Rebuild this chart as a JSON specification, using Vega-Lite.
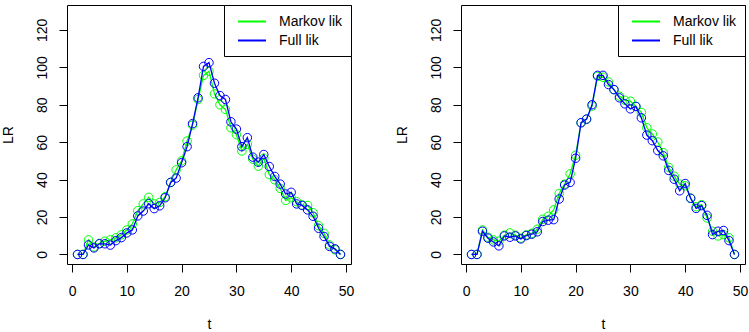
{
 "$schema": "https://vega.github.io/schema/vega-lite/v6.json",
 "padding": {"left": 0, "top": 4, "right": 3, "bottom": 0},
 "background": "white",
 "bounds": "flush",
 "spacing": 110,
 "resolve": {"legend": {"color": "independent"}},
 "data": {"values": [
  {"panel":1,"series":"Markov lik","t":1,"LR":0},{"panel":1,"series":"Markov lik","t":2,"LR":0},{"panel":1,"series":"Markov lik","t":3,"LR":7.8},{"panel":1,"series":"Markov lik","t":4,"LR":4},{"panel":1,"series":"Markov lik","t":5,"LR":5.9},{"panel":1,"series":"Markov lik","t":6,"LR":7.1},{"panel":1,"series":"Markov lik","t":7,"LR":7.8},{"panel":1,"series":"Markov lik","t":8,"LR":8.9},{"panel":1,"series":"Markov lik","t":9,"LR":10.5},{"panel":1,"series":"Markov lik","t":10,"LR":13.1},
  {"panel":1,"series":"Markov lik","t":11,"LR":16.3},{"panel":1,"series":"Markov lik","t":12,"LR":23.4},{"panel":1,"series":"Markov lik","t":13,"LR":27},{"panel":1,"series":"Markov lik","t":14,"LR":30.5},{"panel":1,"series":"Markov lik","t":15,"LR":27},{"panel":1,"series":"Markov lik","t":16,"LR":27.8},{"panel":1,"series":"Markov lik","t":17,"LR":30.9},{"panel":1,"series":"Markov lik","t":18,"LR":38.5},{"panel":1,"series":"Markov lik","t":19,"LR":45.2},{"panel":1,"series":"Markov lik","t":20,"LR":50},
  {"panel":1,"series":"Markov lik","t":21,"LR":60.6},{"panel":1,"series":"Markov lik","t":22,"LR":69.1},{"panel":1,"series":"Markov lik","t":23,"LR":82.8},{"panel":1,"series":"Markov lik","t":24,"LR":95.7},{"panel":1,"series":"Markov lik","t":25,"LR":97.9},{"panel":1,"series":"Markov lik","t":26,"LR":85.8},{"panel":1,"series":"Markov lik","t":27,"LR":80},{"panel":1,"series":"Markov lik","t":28,"LR":77.5},{"panel":1,"series":"Markov lik","t":29,"LR":67.7},{"panel":1,"series":"Markov lik","t":30,"LR":64},
  {"panel":1,"series":"Markov lik","t":31,"LR":55.3},{"panel":1,"series":"Markov lik","t":32,"LR":58.9},{"panel":1,"series":"Markov lik","t":33,"LR":50.9},{"panel":1,"series":"Markov lik","t":34,"LR":47.2},{"panel":1,"series":"Markov lik","t":35,"LR":51.4},{"panel":1,"series":"Markov lik","t":36,"LR":42.7},{"panel":1,"series":"Markov lik","t":37,"LR":39.9},{"panel":1,"series":"Markov lik","t":38,"LR":35.3},{"panel":1,"series":"Markov lik","t":39,"LR":28.9},{"panel":1,"series":"Markov lik","t":40,"LR":30.3},
  {"panel":1,"series":"Markov lik","t":41,"LR":28.2},{"panel":1,"series":"Markov lik","t":42,"LR":26.4},{"panel":1,"series":"Markov lik","t":43,"LR":26.2},{"panel":1,"series":"Markov lik","t":44,"LR":22.3},{"panel":1,"series":"Markov lik","t":45,"LR":15.4},{"panel":1,"series":"Markov lik","t":46,"LR":11.3},{"panel":1,"series":"Markov lik","t":47,"LR":5.1},{"panel":1,"series":"Markov lik","t":48,"LR":2.5},{"panel":1,"series":"Markov lik","t":49,"LR":0},
  {"panel":1,"series":"Full lik","t":1,"LR":0},{"panel":1,"series":"Full lik","t":2,"LR":0},{"panel":1,"series":"Full lik","t":3,"LR":5.1},{"panel":1,"series":"Full lik","t":4,"LR":3.5},{"panel":1,"series":"Full lik","t":5,"LR":5.7},{"panel":1,"series":"Full lik","t":6,"LR":5.7},{"panel":1,"series":"Full lik","t":7,"LR":5},{"panel":1,"series":"Full lik","t":8,"LR":7.4},{"panel":1,"series":"Full lik","t":9,"LR":9},{"panel":1,"series":"Full lik","t":10,"LR":11.5},
  {"panel":1,"series":"Full lik","t":11,"LR":13.1},{"panel":1,"series":"Full lik","t":12,"LR":20.6},{"panel":1,"series":"Full lik","t":13,"LR":23.2},{"panel":1,"series":"Full lik","t":14,"LR":27.1},{"panel":1,"series":"Full lik","t":15,"LR":24.5},{"panel":1,"series":"Full lik","t":16,"LR":26},{"panel":1,"series":"Full lik","t":17,"LR":30.3},{"panel":1,"series":"Full lik","t":18,"LR":38.5},{"panel":1,"series":"Full lik","t":19,"LR":40.8},{"panel":1,"series":"Full lik","t":20,"LR":49},
  {"panel":1,"series":"Full lik","t":21,"LR":57.6},{"panel":1,"series":"Full lik","t":22,"LR":69.9},{"panel":1,"series":"Full lik","t":23,"LR":83.7},{"panel":1,"series":"Full lik","t":24,"LR":100.5},{"panel":1,"series":"Full lik","t":25,"LR":102.5},{"panel":1,"series":"Full lik","t":26,"LR":91.5},{"panel":1,"series":"Full lik","t":27,"LR":84.9},{"panel":1,"series":"Full lik","t":28,"LR":82.8},{"panel":1,"series":"Full lik","t":29,"LR":70.9},{"panel":1,"series":"Full lik","t":30,"LR":67},
  {"panel":1,"series":"Full lik","t":31,"LR":57.6},{"panel":1,"series":"Full lik","t":32,"LR":62.4},{"panel":1,"series":"Full lik","t":33,"LR":52},{"panel":1,"series":"Full lik","t":34,"LR":49.3},{"panel":1,"series":"Full lik","t":35,"LR":53.4},{"panel":1,"series":"Full lik","t":36,"LR":47},{"panel":1,"series":"Full lik","t":37,"LR":41.7},{"panel":1,"series":"Full lik","t":38,"LR":37.6},{"panel":1,"series":"Full lik","t":39,"LR":32.3},{"panel":1,"series":"Full lik","t":40,"LR":33.2},
  {"panel":1,"series":"Full lik","t":41,"LR":27},{"panel":1,"series":"Full lik","t":42,"LR":26.2},{"panel":1,"series":"Full lik","t":43,"LR":23.8},{"panel":1,"series":"Full lik","t":44,"LR":20.4},{"panel":1,"series":"Full lik","t":45,"LR":14},{"panel":1,"series":"Full lik","t":46,"LR":9.6},{"panel":1,"series":"Full lik","t":47,"LR":4.3},{"panel":1,"series":"Full lik","t":48,"LR":3},{"panel":1,"series":"Full lik","t":49,"LR":0},
  {"panel":2,"series":"Markov lik","t":1,"LR":0},{"panel":2,"series":"Markov lik","t":2,"LR":0},{"panel":2,"series":"Markov lik","t":3,"LR":13.1},{"panel":2,"series":"Markov lik","t":4,"LR":9.2},{"panel":2,"series":"Markov lik","t":5,"LR":7.8},{"panel":2,"series":"Markov lik","t":6,"LR":7.1},{"panel":2,"series":"Markov lik","t":7,"LR":10.3},{"panel":2,"series":"Markov lik","t":8,"LR":11.5},{"panel":2,"series":"Markov lik","t":9,"LR":10.3},{"panel":2,"series":"Markov lik","t":10,"LR":8.7},
  {"panel":2,"series":"Markov lik","t":11,"LR":10.5},{"panel":2,"series":"Markov lik","t":12,"LR":11.3},{"panel":2,"series":"Markov lik","t":13,"LR":13.5},{"panel":2,"series":"Markov lik","t":14,"LR":18.8},{"panel":2,"series":"Markov lik","t":15,"LR":20.4},{"panel":2,"series":"Markov lik","t":16,"LR":23.8},{"panel":2,"series":"Markov lik","t":17,"LR":32.6},{"panel":2,"series":"Markov lik","t":18,"LR":37.6},{"panel":2,"series":"Markov lik","t":19,"LR":43.1},{"panel":2,"series":"Markov lik","t":20,"LR":53},
  {"panel":2,"series":"Markov lik","t":21,"LR":70.4},{"panel":2,"series":"Markov lik","t":22,"LR":72.3},{"panel":2,"series":"Markov lik","t":23,"LR":79.3},{"panel":2,"series":"Markov lik","t":24,"LR":95.2},{"panel":2,"series":"Markov lik","t":25,"LR":94.7},{"panel":2,"series":"Markov lik","t":26,"LR":92.2},{"panel":2,"series":"Markov lik","t":27,"LR":88.1},{"panel":2,"series":"Markov lik","t":28,"LR":84.6},{"panel":2,"series":"Markov lik","t":29,"LR":82.4},{"panel":2,"series":"Markov lik","t":30,"LR":81.9},
  {"panel":2,"series":"Markov lik","t":31,"LR":79.1},{"panel":2,"series":"Markov lik","t":32,"LR":75.9},{"panel":2,"series":"Markov lik","t":33,"LR":67.7},{"panel":2,"series":"Markov lik","t":34,"LR":64.4},{"panel":2,"series":"Markov lik","t":35,"LR":60.1},{"panel":2,"series":"Markov lik","t":36,"LR":54.4},{"panel":2,"series":"Markov lik","t":37,"LR":46.5},{"panel":2,"series":"Markov lik","t":38,"LR":41.8},{"panel":2,"series":"Markov lik","t":39,"LR":37.6},{"panel":2,"series":"Markov lik","t":40,"LR":36.7},
  {"panel":2,"series":"Markov lik","t":41,"LR":30.1},{"panel":2,"series":"Markov lik","t":42,"LR":25.5},{"panel":2,"series":"Markov lik","t":43,"LR":26.6},{"panel":2,"series":"Markov lik","t":44,"LR":19.5},{"panel":2,"series":"Markov lik","t":45,"LR":12.4},{"panel":2,"series":"Markov lik","t":46,"LR":9.9},{"panel":2,"series":"Markov lik","t":47,"LR":10.6},{"panel":2,"series":"Markov lik","t":48,"LR":8.9},{"panel":2,"series":"Markov lik","t":49,"LR":0},
  {"panel":2,"series":"Full lik","t":1,"LR":0},{"panel":2,"series":"Full lik","t":2,"LR":0},{"panel":2,"series":"Full lik","t":3,"LR":12.4},{"panel":2,"series":"Full lik","t":4,"LR":8.7},{"panel":2,"series":"Full lik","t":5,"LR":6.7},{"panel":2,"series":"Full lik","t":6,"LR":4.6},{"panel":2,"series":"Full lik","t":7,"LR":9.9},{"panel":2,"series":"Full lik","t":8,"LR":9.2},{"panel":2,"series":"Full lik","t":9,"LR":9.9},{"panel":2,"series":"Full lik","t":10,"LR":8.3},
  {"panel":2,"series":"Full lik","t":11,"LR":10.1},{"panel":2,"series":"Full lik","t":12,"LR":10.8},{"panel":2,"series":"Full lik","t":13,"LR":12.1},{"panel":2,"series":"Full lik","t":14,"LR":17.6},{"panel":2,"series":"Full lik","t":15,"LR":18.3},{"panel":2,"series":"Full lik","t":16,"LR":18.6},{"panel":2,"series":"Full lik","t":17,"LR":29.6},{"panel":2,"series":"Full lik","t":18,"LR":37.1},{"panel":2,"series":"Full lik","t":19,"LR":38.5},{"panel":2,"series":"Full lik","t":20,"LR":51.4},
  {"panel":2,"series":"Full lik","t":21,"LR":70.4},{"panel":2,"series":"Full lik","t":22,"LR":72.3},{"panel":2,"series":"Full lik","t":23,"LR":80},{"panel":2,"series":"Full lik","t":24,"LR":95.7},{"panel":2,"series":"Full lik","t":25,"LR":95.7},{"panel":2,"series":"Full lik","t":26,"LR":90.8},{"panel":2,"series":"Full lik","t":27,"LR":88.1},{"panel":2,"series":"Full lik","t":28,"LR":83.7},{"panel":2,"series":"Full lik","t":29,"LR":80.5},{"panel":2,"series":"Full lik","t":30,"LR":77.8},
  {"panel":2,"series":"Full lik","t":31,"LR":79.1},{"panel":2,"series":"Full lik","t":32,"LR":73},{"panel":2,"series":"Full lik","t":33,"LR":63.8},{"panel":2,"series":"Full lik","t":34,"LR":60.8},{"panel":2,"series":"Full lik","t":35,"LR":55.5},{"panel":2,"series":"Full lik","t":36,"LR":52.7},{"panel":2,"series":"Full lik","t":37,"LR":44.9},{"panel":2,"series":"Full lik","t":38,"LR":40.2},{"panel":2,"series":"Full lik","t":39,"LR":34},{"panel":2,"series":"Full lik","t":40,"LR":37.9},
  {"panel":2,"series":"Full lik","t":41,"LR":30},{"panel":2,"series":"Full lik","t":42,"LR":24.6},{"panel":2,"series":"Full lik","t":43,"LR":26.1},{"panel":2,"series":"Full lik","t":44,"LR":20.9},{"panel":2,"series":"Full lik","t":45,"LR":10.6},{"panel":2,"series":"Full lik","t":46,"LR":12.4},{"panel":2,"series":"Full lik","t":47,"LR":12.8},{"panel":2,"series":"Full lik","t":48,"LR":7.4},{"panel":2,"series":"Full lik","t":49,"LR":0}
 ]},
 "hconcat": [
  {
   "width": 284, "height": 259,
   "transform": [{"filter": "datum.panel == 1"}],
   "encoding": {
    "x": {"field": "t", "type": "quantitative", "scale": {"domain": [-0.92, 50.92], "nice": false, "zero": false}, "axis": {"values": [0, 10, 20, 30, 40, 50], "title": "t"}},
    "y": {"field": "LR", "type": "quantitative", "scale": {"domain": [-5.1, 133.3], "nice": false, "zero": false}, "axis": {"values": [0, 20, 40, 60, 80, 100, 120], "title": "LR"}},
    "color": {"field": "series", "type": "nominal", "scale": {"domain": ["Markov lik", "Full lik"], "range": ["#00FF00", "#0000FF"]}, "legend": {"orient": "top-right"}}
   },
   "layer": [
    {"transform": [{"filter": "datum.series == 'Markov lik'"}], "mark": {"type": "line", "strokeWidth": 1.3, "point": {"filled": false, "size": 72, "strokeWidth": 1}}},
    {"transform": [{"filter": "datum.series == 'Full lik'"}], "mark": {"type": "line", "strokeWidth": 1.3, "point": {"filled": false, "size": 72, "strokeWidth": 1}}}
   ]
  },
  {
   "width": 284, "height": 259,
   "transform": [{"filter": "datum.panel == 2"}],
   "encoding": {
    "x": {"field": "t", "type": "quantitative", "scale": {"domain": [-0.92, 50.92], "nice": false, "zero": false}, "axis": {"values": [0, 10, 20, 30, 40, 50], "title": "t"}},
    "y": {"field": "LR", "type": "quantitative", "scale": {"domain": [-5.1, 133.3], "nice": false, "zero": false}, "axis": {"values": [0, 20, 40, 60, 80, 100, 120], "title": "LR"}},
    "color": {"field": "series", "type": "nominal", "scale": {"domain": ["Markov lik", "Full lik"], "range": ["#00FF00", "#0000FF"]}, "legend": {"orient": "top-right"}}
   },
   "layer": [
    {"transform": [{"filter": "datum.series == 'Markov lik'"}], "mark": {"type": "line", "strokeWidth": 1.3, "point": {"filled": false, "size": 72, "strokeWidth": 1}}},
    {"transform": [{"filter": "datum.series == 'Full lik'"}], "mark": {"type": "line", "strokeWidth": 1.3, "point": {"filled": false, "size": 72, "strokeWidth": 1}}}
   ]
  }
 ],
 "config": {
  "font": "Liberation Sans",
  "view": {"stroke": "black", "strokeWidth": 1},
  "axis": {"grid": false, "domain": false, "ticks": true, "tickColor": "black", "tickSize": 8, "tickWidth": 1, "labelFont": "Liberation Sans", "labelFontSize": 14, "labelColor": "black", "titleFont": "Liberation Sans", "titleFontSize": 14, "titleFontWeight": "normal", "titleColor": "black"},
  "axisX": {"labelPadding": 12, "titleY": 64, "titleBaseline": "alphabetic"},
  "axisY": {"labelAngle": 270, "labelAlign": "center", "labelBaseline": "alphabetic", "labelPadding": 13, "titleAngle": 270, "titleX": -55, "titleY": 129.5, "titleAlign": "center", "titleBaseline": "alphabetic"},
  "legend": {"title": null, "offset": 0, "strokeColor": "black", "fillColor": "white", "padding": 8.5, "cornerRadius": 0, "symbolType": "M-2,0H2", "symbolSize": 196, "symbolStrokeWidth": 2, "symbolOffset": 11.5, "labelOffset": 19, "labelFont": "Liberation Sans", "labelFontSize": 14, "labelColor": "black", "rowPadding": 4}
 }
}
